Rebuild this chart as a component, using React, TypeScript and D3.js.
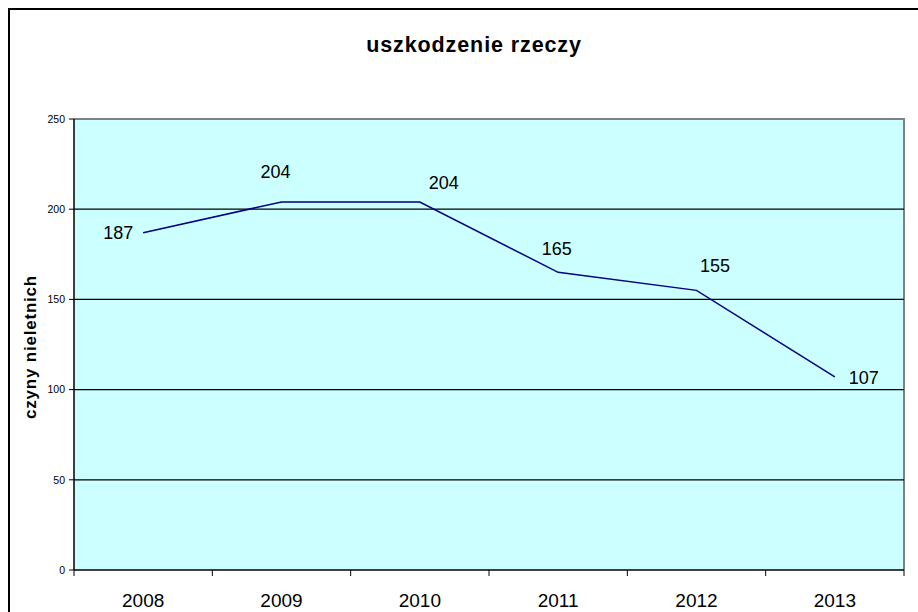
import React, { useRef, useEffect } from 'react';
import * as d3 from 'd3';

// chart data
const years = ['2008', '2009', '2010', '2011', '2012', '2013'];
const values = [187, 204, 204, 165, 155, 107];
const yTicks = [0, 50, 100, 150, 200, 250];
const chartTitle = 'uszkodzenie rzeczy';
const yTitle = 'czyny nieletnich';

// where each data label sits relative to its point [dx, dy]
const labelOffsets: [number, number][] = [
  [-25, 6.5], [-6, -24], [24, -12.5], [-1.5, -17], [18.5, -18.5], [29, 7.5],
];

const App = () => {
  const svgRef = useRef<SVGSVGElement | null>(null);

  useEffect(() => {
    if (!svgRef.current) return;
    const svg = d3.select(svgRef.current);
    svg.selectAll('*').remove();

    const font = 'Arial, "Liberation Sans", sans-serif';
    const left = 74, right = 904, top = 119, bottom = 570;

    // outer frame
    svg.append('rect')
      .attr('x', 9).attr('y', 9).attr('width', 930).attr('height', 640)
      .attr('fill', '#fff').attr('stroke', '#000').attr('stroke-width', 2);

    // title
    svg.append('text')
      .attr('x', 474).attr('y', 52)
      .attr('text-anchor', 'middle')
      .style('font-family', font).style('font-size', '21.5px').style('font-weight', 'bold')
      .style('letter-spacing', '0.9px')
      .text(chartTitle);

    const x = d3.scaleBand<string>().domain(years).range([left, right]).padding(0);
    const y = d3.scaleLinear().domain([0, 250]).range([bottom, top]);

    // plot area
    svg.append('rect')
      .attr('x', left).attr('y', top)
      .attr('width', right - left).attr('height', bottom - top)
      .attr('fill', '#ccffff');
    svg.append('path')
      .attr('d', `M${left},${top}H${right}V${bottom}`)
      .attr('fill', 'none').attr('stroke', '#808080').attr('stroke-width', 2);

    // gridlines
    svg.selectAll('.grid')
      .data(yTicks.filter(t => t > 0 && t < 250))
      .enter().append('line')
      .attr('x1', left).attr('x2', right)
      .attr('y1', d => y(d)).attr('y2', d => y(d))
      .attr('stroke', '#000').attr('stroke-width', 1.2);

    // y axis
    svg.append('line')
      .attr('x1', left).attr('x2', left).attr('y1', top).attr('y2', bottom)
      .attr('stroke', '#000').attr('stroke-width', 1.5);
    svg.selectAll('.ytick')
      .data(yTicks)
      .enter().append('line')
      .attr('x1', left - 5).attr('x2', left)
      .attr('y1', d => y(d)).attr('y2', d => y(d))
      .attr('stroke', '#000').attr('stroke-width', 1);
    svg.selectAll('.ylabel')
      .data(yTicks)
      .enter().append('text')
      .attr('x', 65).attr('y', d => y(d) + 3.7)
      .attr('text-anchor', 'end')
      .style('font-family', font).style('font-size', '10.5px')
      .text(d => d);

    // x axis
    svg.append('line')
      .attr('x1', left).attr('x2', right).attr('y1', bottom).attr('y2', bottom)
      .attr('stroke', '#000').attr('stroke-width', 1.5);
    const bounds = years.map(yr => x(yr)!).concat([right]);
    svg.selectAll('.xtick')
      .data(bounds)
      .enter().append('line')
      .attr('x1', d => d).attr('x2', d => d)
      .attr('y1', bottom).attr('y2', bottom + 6)
      .attr('stroke', '#000').attr('stroke-width', 1);
    svg.selectAll('.xlabel')
      .data(years)
      .enter().append('text')
      .attr('x', d => x(d)! + x.bandwidth() / 2).attr('y', 607)
      .attr('text-anchor', 'middle')
      .style('font-family', font).style('font-size', '19px')
      .text(d => d);

    // y axis title
    svg.append('text')
      .attr('transform', 'translate(36,347) rotate(-90)')
      .attr('text-anchor', 'middle')
      .style('font-family', font).style('font-size', '17px').style('font-weight', 'bold')
      .style('letter-spacing', '0.8px')
      .text(yTitle);

    // series line
    const line = d3.line<number>()
      .x((_, i) => x(years[i])! + x.bandwidth() / 2)
      .y(d => y(d));
    svg.append('path')
      .datum(values)
      .attr('d', line)
      .attr('fill', 'none').attr('stroke', '#000080').attr('stroke-width', 1.5);

    // data labels
    svg.selectAll('.dlabel')
      .data(values)
      .enter().append('text')
      .attr('x', (_, i) => x(years[i])! + x.bandwidth() / 2 + labelOffsets[i][0])
      .attr('y', (d, i) => y(d) + labelOffsets[i][1])
      .attr('text-anchor', 'middle')
      .style('font-family', font).style('font-size', '18px')
      .text(d => d);
  }, []);

  return (
    <svg ref={svgRef} width={918} height={612}
      style={{ position: 'absolute', left: 0, top: 0, background: '#fff' }} />
  );
};

export default App;
